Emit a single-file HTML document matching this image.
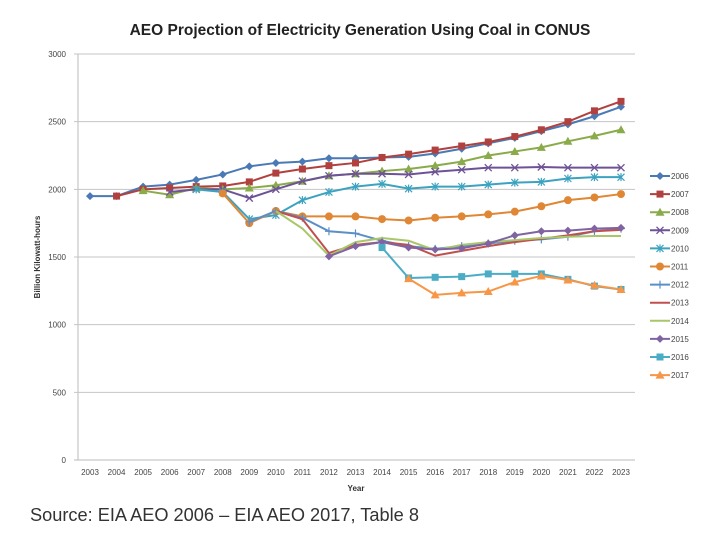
<!DOCTYPE html>
<html><head><meta charset="utf-8"><style>
body{margin:0;background:#fff;width:720px;height:540px;overflow:hidden;font-family:"Liberation Sans",sans-serif}
</style></head><body>
<svg id="chart" width="720" height="540" xmlns="http://www.w3.org/2000/svg">
<text x="360" y="35" text-anchor="middle" font-size="15.5" font-weight="bold" fill="#222">AEO Projection of Electricity Generation Using Coal in CONUS</text>
<text x="30" y="521" font-size="18.2" fill="#333">Source: EIA AEO 2006 – EIA AEO 2017, Table 8</text>
<text transform="translate(40,257) rotate(-90)" text-anchor="middle" font-size="8" font-weight="bold" fill="#333">Billion Kilowatt-hours</text>
<text x="356" y="491" text-anchor="middle" font-size="8" font-weight="bold" fill="#333">Year</text>
<g id="grid"></g><g id="series"></g><g id="legend"></g>
</svg>
<script>
const years=[2003,2004,2005,2006,2007,2008,2009,2010,2011,2012,2013,2014,2015,2016,2017,2018,2019,2020,2021,2022,2023];
const yTicks=[0,500,1000,1500,2000,2500,3000];
const seriesNames=["2006","2007","2008","2009","2010","2011","2012","2013","2014","2015","2016","2017"];
const startYears=[2003,2004,2005,2006,2007,2008,2009,2010,2010,2012,2014,2015];
const s2006=[1950,1950,2020,2035,2070,2110,2170,2195,2205,2230,2230,2235,2240,2265,2300,2340,2380,2430,2480,2540,2610];
const s2007=[1950,2000,2010,2020,2025,2055,2120,2150,2175,2195,2235,2260,2290,2320,2350,2390,2440,2500,2580,2650];
const s2008=[1990,1960,2010,2000,2010,2030,2060,2100,2115,2135,2150,2175,2205,2250,2280,2310,2355,2395,2440];
const s2009=[1980,2000,2000,1935,2000,2060,2100,2115,2115,2110,2130,2145,2160,2160,2165,2160,2160,2160];
const s2010=[2000,1980,1780,1810,1920,1980,2020,2040,2005,2020,2020,2035,2050,2055,2080,2090,2090];
const s2011=[1970,1750,1840,1800,1800,1800,1780,1770,1790,1800,1815,1835,1875,1920,1940,1965];
const s2012=[1760,1840,1790,1690,1675,1620,1580,1560,1580,1600,1620,1630,1650,1690,1710];
const s2013=[1840,1780,1530,1590,1610,1590,1510,1545,1580,1610,1635,1660,1690,1700];
const s2014=[1840,1710,1510,1610,1640,1620,1550,1590,1610,1625,1640,1650,1655,1655];
const s2015=[1505,1580,1610,1570,1555,1565,1600,1660,1690,1695,1710,1715];
const s2016=[1570,1345,1350,1355,1375,1375,1375,1335,1285,1260];
const s2017=[1340,1220,1235,1245,1315,1360,1330,1290,1260];
const allValues=[s2006,s2007,s2008,s2009,s2010,s2011,s2012,s2013,s2014,s2015,s2016,s2017];
const colors=["#4a7ab5","#b0413e","#8aab4a","#6e5296","#3ba3c0","#e08735","#5b8fc9","#c0504d","#a9c76a","#8064a2","#4bacc6","#f79646"];
const markers=["diamond","square","triangle","x","star","circle","plus","none","none","diamond","square","triangle"];
const NS="http://www.w3.org/2000/svg";
const X=y=>90+(y-2003)*26.55, Y=v=>460-v*(406/3000);
function mk(t,a,p){const e=document.createElementNS(NS,t);for(const k in a)e.setAttribute(k,a[k]);p.appendChild(e);return e;}
const grid=document.getElementById('grid');
mk('line',{x1:78,y1:54,x2:78,y2:460,stroke:'#bbb'},grid);
yTicks.forEach(t=>{
 const l=mk('line',{x1:74,x2:635,y1:Y(t),y2:Y(t),stroke:t===0?'#bbb':'#c4c4c4'},grid);
 
 
 const tx=mk('text',{x:66,y:Y(t)+3,'text-anchor':'end','font-size':8,fill:'#444'},grid);tx.textContent=t;
 
 
});
years.forEach(yr=>{
 const tx=mk('text',{x:X(yr),y:475,'text-anchor':'middle','font-size':8,fill:'#444'},grid);tx.textContent=yr;
 
 
});
function marker(type,x,y,c,g){
 if(type==='diamond')mk('polygon',{points:`${x},${y-4} ${x+4},${y} ${x},${y+4} ${x-4},${y}`,fill:c},g);
 else if(type==='square')mk('rect',{x:x-3.5,y:y-3.5,width:7,height:7,fill:c},g);
 else if(type==='triangle')mk('polygon',{points:`${x},${y-4.5} ${x+4.5},${y+3.5} ${x-4.5},${y+3.5}`,fill:c},g);
 else if(type==='circle')mk('circle',{cx:x,cy:y,r:4,fill:c},g);
 else if(type==='x'){mk('path',{d:`M${x-3.5} ${y-3.5}L${x+3.5} ${y+3.5}M${x+3.5} ${y-3.5}L${x-3.5} ${y+3.5}`,stroke:c,'stroke-width':1.3},g);}
 else if(type==='star'){mk('path',{d:`M${x-3.5} ${y-3.5}L${x+3.5} ${y+3.5}M${x+3.5} ${y-3.5}L${x-3.5} ${y+3.5}M${x} ${y-4}L${x} ${y+4}`,stroke:c,'stroke-width':1.2},g);}
 else if(type==='plus'){mk('path',{d:`M${x-4} ${y}L${x+4} ${y}M${x} ${y-4}L${x} ${y+4}`,stroke:c,'stroke-width':1.2},g);}
}
const sg=document.getElementById('series');
allValues.forEach((vals,i)=>{
 const g=mk('g',{},sg);
 
 
 const pts=vals.map((v,j)=>[X(startYears[i]+j),Y(v)]);
 mk('polyline',{points:pts.map(p=>p.join(',')).join(' '),fill:'none',stroke:colors[i],'stroke-width':2},g);
 pts.forEach(p=>marker(markers[i],p[0],p[1],colors[i],g));
});
const lg=document.getElementById('legend');
seriesNames.forEach((n,i)=>{
 const y=176+i*18.1;
 const g=mk('g',{},lg);
 
 
 mk('line',{x1:650,x2:670,y1:y,y2:y,stroke:colors[i],'stroke-width':2},g);
 marker(markers[i],660,y,colors[i],g);
 const t=mk('text',{x:671,y:y+3,'font-size':8,fill:'#444'},g);t.textContent=n;
});
</script>
</body></html>
